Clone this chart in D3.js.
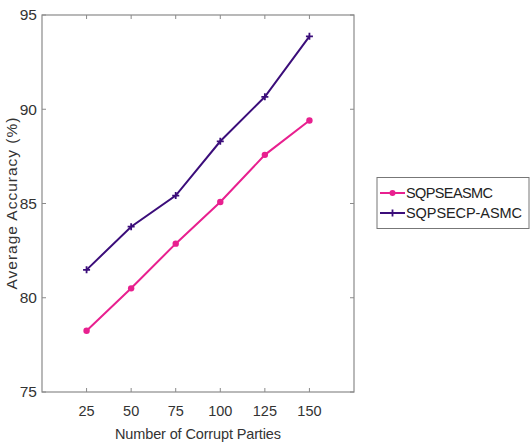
<!DOCTYPE html>
<html>
<head>
<meta charset="utf-8">
<script src="https://cdn.jsdelivr.net/npm/d3@7"></script>
<style>
  body { margin: 0; background: #fff; }
  text { font-family: "Liberation Sans", Arial, sans-serif; }
</style>
</head>
<body>
<div id="chart"></div>
<script>
const parties = [25, 50, 75, 100, 125, 150]
const sqpseasmc = [78.25, 80.5, 82.87, 85.08, 87.58, 89.4]
const sqpsecpAsmc = [81.48, 83.77, 85.42, 88.3, 90.66, 93.87]
const xTicks = [25, 50, 75, 100, 125, 150]
const yTicks = [75, 80, 85, 90, 95]
const seriesNames = ["SQPSEASMC", "SQPSECP-ASMC"]

const canvas = {width: 531, height: 442, margin: {top: 15, bottom: 50, right: 177, left: 42}}
const colors = ["#e8208f", "#3b0d7a"]
const axisColor = "#8a8a8a"

const svg = d3.select("#chart").append("svg")
  .attr("width", canvas.width).attr("height", canvas.height)

const x = d3.scaleLinear().domain([0, 175])
  .range([canvas.margin.left, canvas.width - canvas.margin.right])
const y = d3.scaleLinear().domain([75, 95])
  .range([canvas.height - canvas.margin.bottom, canvas.margin.top])

const x0 = x.range()[0], x1 = x.range()[1], y0 = y.range()[0], y1 = y.range()[1]

// box
svg.append("rect").attr("x", x0).attr("y", y1).attr("width", x1 - x0).attr("height", y0 - y1)
  .attr("fill", "none").attr("stroke", axisColor).attr("stroke-width", 1.2)

// inward ticks on all sides
const tl = 4
xTicks.forEach(t => {
  svg.append("line").attr("x1", x(t)).attr("x2", x(t)).attr("y1", y0).attr("y2", y0 - tl).attr("stroke", axisColor)
  svg.append("line").attr("x1", x(t)).attr("x2", x(t)).attr("y1", y1).attr("y2", y1 + tl).attr("stroke", axisColor)
  svg.append("text").attr("x", x(t)).attr("y", y0 + 24).attr("text-anchor", "middle")
    .attr("font-size", 14.5).attr("fill", "#333").text(t)
})
yTicks.forEach(t => {
  svg.append("line").attr("x1", x0).attr("x2", x0 + tl).attr("y1", y(t)).attr("y2", y(t)).attr("stroke", axisColor)
  svg.append("line").attr("x1", x1).attr("x2", x1 - tl).attr("y1", y(t)).attr("y2", y(t)).attr("stroke", axisColor)
  svg.append("text").attr("x", x0 - 5).attr("y", y(t)).attr("dy", "0.35em").attr("text-anchor", "end")
    .attr("font-size", 15.5).attr("fill", "#333").text(t)
})

svg.append("text").attr("x", (x0 + x1) / 2).attr("y", 439).attr("text-anchor", "middle")
  .attr("font-size", 14.5).attr("fill", "#333").attr("textLength", 166).text("Number of Corrupt Parties")
svg.append("text").attr("transform", `translate(17,${(y0 + y1) / 2}) rotate(-90)`)
  .attr("text-anchor", "middle").attr("font-size", 15.5).attr("fill", "#333")
  .attr("textLength", 172).text("Average Accuracy (%)")

const line = d3.line().x((d, i) => x(parties[i])).y(d => y(d))

// pink series with round markers
svg.append("path").datum(sqpseasmc).attr("fill", "none").attr("stroke", colors[0])
  .attr("stroke-width", 2).attr("d", line)
svg.selectAll(".m1").data(sqpseasmc).join("circle")
  .attr("cx", (d, i) => x(parties[i])).attr("cy", d => y(d)).attr("r", 3.2).attr("fill", colors[0])

// purple series with plus markers
svg.append("path").datum(sqpsecpAsmc).attr("fill", "none").attr("stroke", colors[1])
  .attr("stroke-width", 2).attr("d", line)
svg.selectAll(".m2").data(sqpsecpAsmc).join("path")
  .attr("d", (d, i) => {
    const cx = x(parties[i]), cy = y(d), s = 3.5
    return `M${cx - s},${cy}H${cx + s}M${cx},${cy - s}V${cy + s}`
  })
  .attr("stroke", colors[1]).attr("stroke-width", 1.8)

// legend
const lg = svg.append("g")
lg.append("rect").attr("x", 377).attr("y", 177.5).attr("width", 152).attr("height", 51)
  .attr("fill", "#fff").attr("stroke", "#777").attr("stroke-width", 1)
seriesNames.forEach((name, i) => {
  const ly = 193 + i * 20
  lg.append("line").attr("x1", 380).attr("x2", 405).attr("y1", ly).attr("y2", ly)
    .attr("stroke", colors[i]).attr("stroke-width", 2)
  if (i === 0) {
    lg.append("circle").attr("cx", 392.5).attr("cy", ly).attr("r", 3).attr("fill", colors[i])
  } else {
    lg.append("path").attr("d", `M389,${ly}H396M392.5,${ly - 3.5}V${ly + 3.5}`)
      .attr("stroke", colors[i]).attr("stroke-width", 1.8)
  }
  lg.append("text").attr("x", 406).attr("y", ly).attr("dy", "0.35em")
    .attr("font-size", 14.5).attr("fill", "#222").attr("textLength", name.length === 9 ? 87 : 116).text(name)
})
</script>
</body>
</html>
